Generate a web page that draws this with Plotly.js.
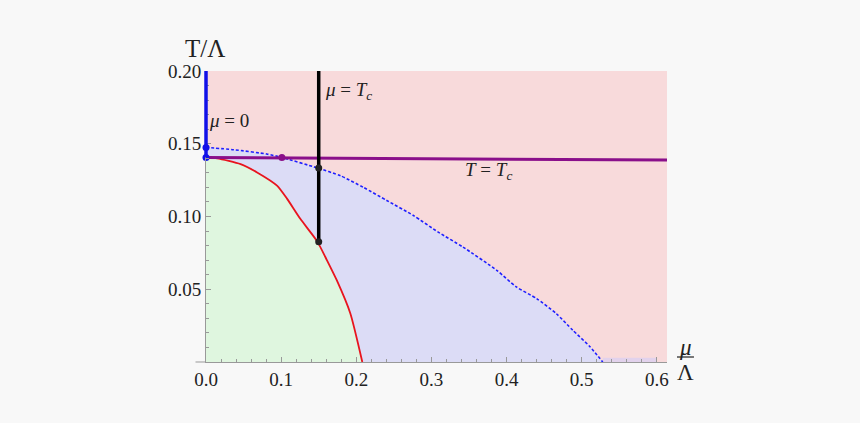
<!DOCTYPE html>
<html><head><meta charset="utf-8">
<script src="https://cdn.plot.ly/plotly-3.0.1.min.js"></script>
<style>html,body{margin:0;padding:0;background:#f8f8f8;}#chart{width:860px;height:423px;}</style>
</head><body><div id="chart"></div>
<script>
// Dashed blue boundary (lavender region below it)
const dashMu = [0, 0.037, 0.081, 0.101, 0.148, 0.179, 0.2096, 0.2406, 0.276, 0.309, 0.342, 0.387, 0.413, 0.44, 0.466, 0.488, 0.511, 0.528];
const dashT  = [0.1475, 0.1459, 0.1429, 0.1406, 0.1334, 0.128, 0.120, 0.111, 0.1007, 0.0893, 0.079, 0.063, 0.0516, 0.0436, 0.0333, 0.0219, 0.0105, 0];
// Red boundary (green region below it)
const redMu = [0, 0.015, 0.046, 0.068, 0.0945, 0.108, 0.1255, 0.148, 0.161, 0.174, 0.192, 0.208];
const redT  = [0.1406, 0.140, 0.136, 0.1303, 0.1212, 0.1121, 0.0984, 0.0829, 0.0699, 0.0562, 0.0335, 0];
// Thin lavender strip along the axis
const stripMu = [0.528, 0.6];
const stripT = [0.003, 0.003];
// Purple T = Tc line
const tcMu = [0, 0.6135];
const tcT = [0.1406, 0.1388];
// Blue mu = 0 line (T range)
const mu0T = [0.1406, 0.2];
// Black mu = Tc line
const muTcMu = [0.15, 0.15];
const muTcT = [0.0826, 0.2];
// Points
const blueDotsMu = [0, 0];
const blueDotsT = [0.1475, 0.1406];
const purpleDotMu = [0.101];
const purpleDotT = [0.1406];
const blackDotsMu = [0.15, 0.15];
const blackDotsT = [0.1334, 0.0826];
// Tick labels
const xTicks = [0, 0.1, 0.2, 0.3, 0.4, 0.5, 0.6];
const yTicks = [0.05, 0.1, 0.15, 0.2];

const serif = '"Liberation Serif", "Times New Roman", serif';
const txt = '#222222';
const traces = [
  {x: dashMu, y: dashT, type: 'scatter', mode: 'lines', fill: 'tozeroy', fillcolor: '#dcdcf6', line: {width: 0, shape: 'spline', smoothing: 0.6}, hoverinfo: 'skip'},
  {x: stripMu, y: stripT, type: 'scatter', mode: 'lines', fill: 'tozeroy', fillcolor: '#e2d2ec', line: {width: 0}, hoverinfo: 'skip'},
  {x: redMu, y: redT, type: 'scatter', mode: 'lines', fill: 'tozeroy', fillcolor: '#dff6df', line: {width: 0, shape: 'spline', smoothing: 0.6}, hoverinfo: 'skip'},
  {x: dashMu, y: dashT, type: 'scatter', mode: 'lines', line: {color: '#1f1fff', width: 1.6, dash: '3px,2px', shape: 'spline', smoothing: 0.6}},
  {x: redMu, y: redT, type: 'scatter', mode: 'lines', line: {color: '#e8141e', width: 1.8, shape: 'spline', smoothing: 0.6}},
  {x: tcMu, y: tcT, type: 'scatter', mode: 'lines', line: {color: '#8a0f8a', width: 3}},
  {x: muTcMu, y: muTcT, type: 'scatter', mode: 'lines', line: {color: '#000000', width: 3.5}},
  {x: blueDotsMu, y: blueDotsT, type: 'scatter', mode: 'markers', marker: {color: '#1010e8', size: 7}, cliponaxis: false},
  {x: purpleDotMu, y: purpleDotT, type: 'scatter', mode: 'markers', marker: {color: '#8a0f8a', size: 7}},
  {x: blackDotsMu, y: blackDotsT, type: 'scatter', mode: 'markers', marker: {color: '#222222', size: 7}}
];

const L = 205.5, R = 667, T = 71, B = 362;
const px = v => (v - L) / (R - L);
const py = v => (B - v) / (B - T);

const ann = (x, y, text, size, ref) => ({
  xref: ref, yref: ref === 'x' ? 'y' : ref, x: x, y: y, text: text, showarrow: false,
  xanchor: 'center', yanchor: 'middle', font: {family: serif, size: size, color: txt}
});

const layout = {
  width: 860, height: 423,
  margin: {l: L, r: 860 - R, t: T, b: 423 - B, pad: 0},
  paper_bgcolor: '#f8f8f8',
  plot_bgcolor: '#f8dadb',
  showlegend: false,
  xaxis: {
    range: [0, 0.6135], showgrid: false, zeroline: false,
    showline: true, linecolor: '#999999', linewidth: 1,
    tickvals: xTicks, tickformat: '.1f', ticks: 'inside', ticklen: 5, tickcolor: '#999999',
    minor: {dtick: 0.02, tick0: 0, ticks: 'inside', ticklen: 3, tickcolor: '#999999'},
    tickfont: {family: serif, size: 19, color: txt}
  },
  yaxis: {
    range: [0, 0.2], showgrid: false, zeroline: false,
    showline: true, linecolor: '#999999', linewidth: 1,
    tickvals: yTicks, tickformat: '.2f', ticks: 'inside', ticklen: 5, tickcolor: '#999999',
    minor: {dtick: 0.01, tick0: 0, ticks: 'inside', ticklen: 3, tickcolor: '#999999'},
    tickfont: {family: serif, size: 19, color: txt}
  },
  shapes: [
    {type: 'line', xref: 'paper', yref: 'paper', x0: px(195), x1: 0, y0: 0, y1: 0, line: {color: '#999999', width: 1}},
    {type: 'line', xref: 'paper', yref: 'y', x0: 0, x1: 0, y0: mu0T[0], y1: mu0T[1], layer: 'above', line: {color: '#1010e8', width: 3.5}},
    {type: 'line', xref: 'paper', yref: 'paper', x0: px(677), x1: px(694), y0: py(357), y1: py(357), line: {color: txt, width: 1.2}}
  ],
  annotations: [
    ann(0.031, 0.166, '<i>μ</i> = 0', 19, 'x'),
    ann(0.19, 0.186, '<i>μ</i> = <i>T</i><sub><i>c</i></sub>', 19, 'x'),
    ann(0.376, 0.1315, '<i>T</i> = <i>T</i><sub><i>c</i></sub>', 19, 'x'),
    ann(px(204), py(48), 'T/Λ', 25, 'paper'),
    ann(px(685.5), py(347), '<i>μ</i>', 23, 'paper'),
    ann(px(685.5), py(372), 'Λ', 23, 'paper')
  ]
};
Plotly.newPlot('chart', traces, layout, {displayModeBar: false, staticPlot: true});
</script></body></html>
